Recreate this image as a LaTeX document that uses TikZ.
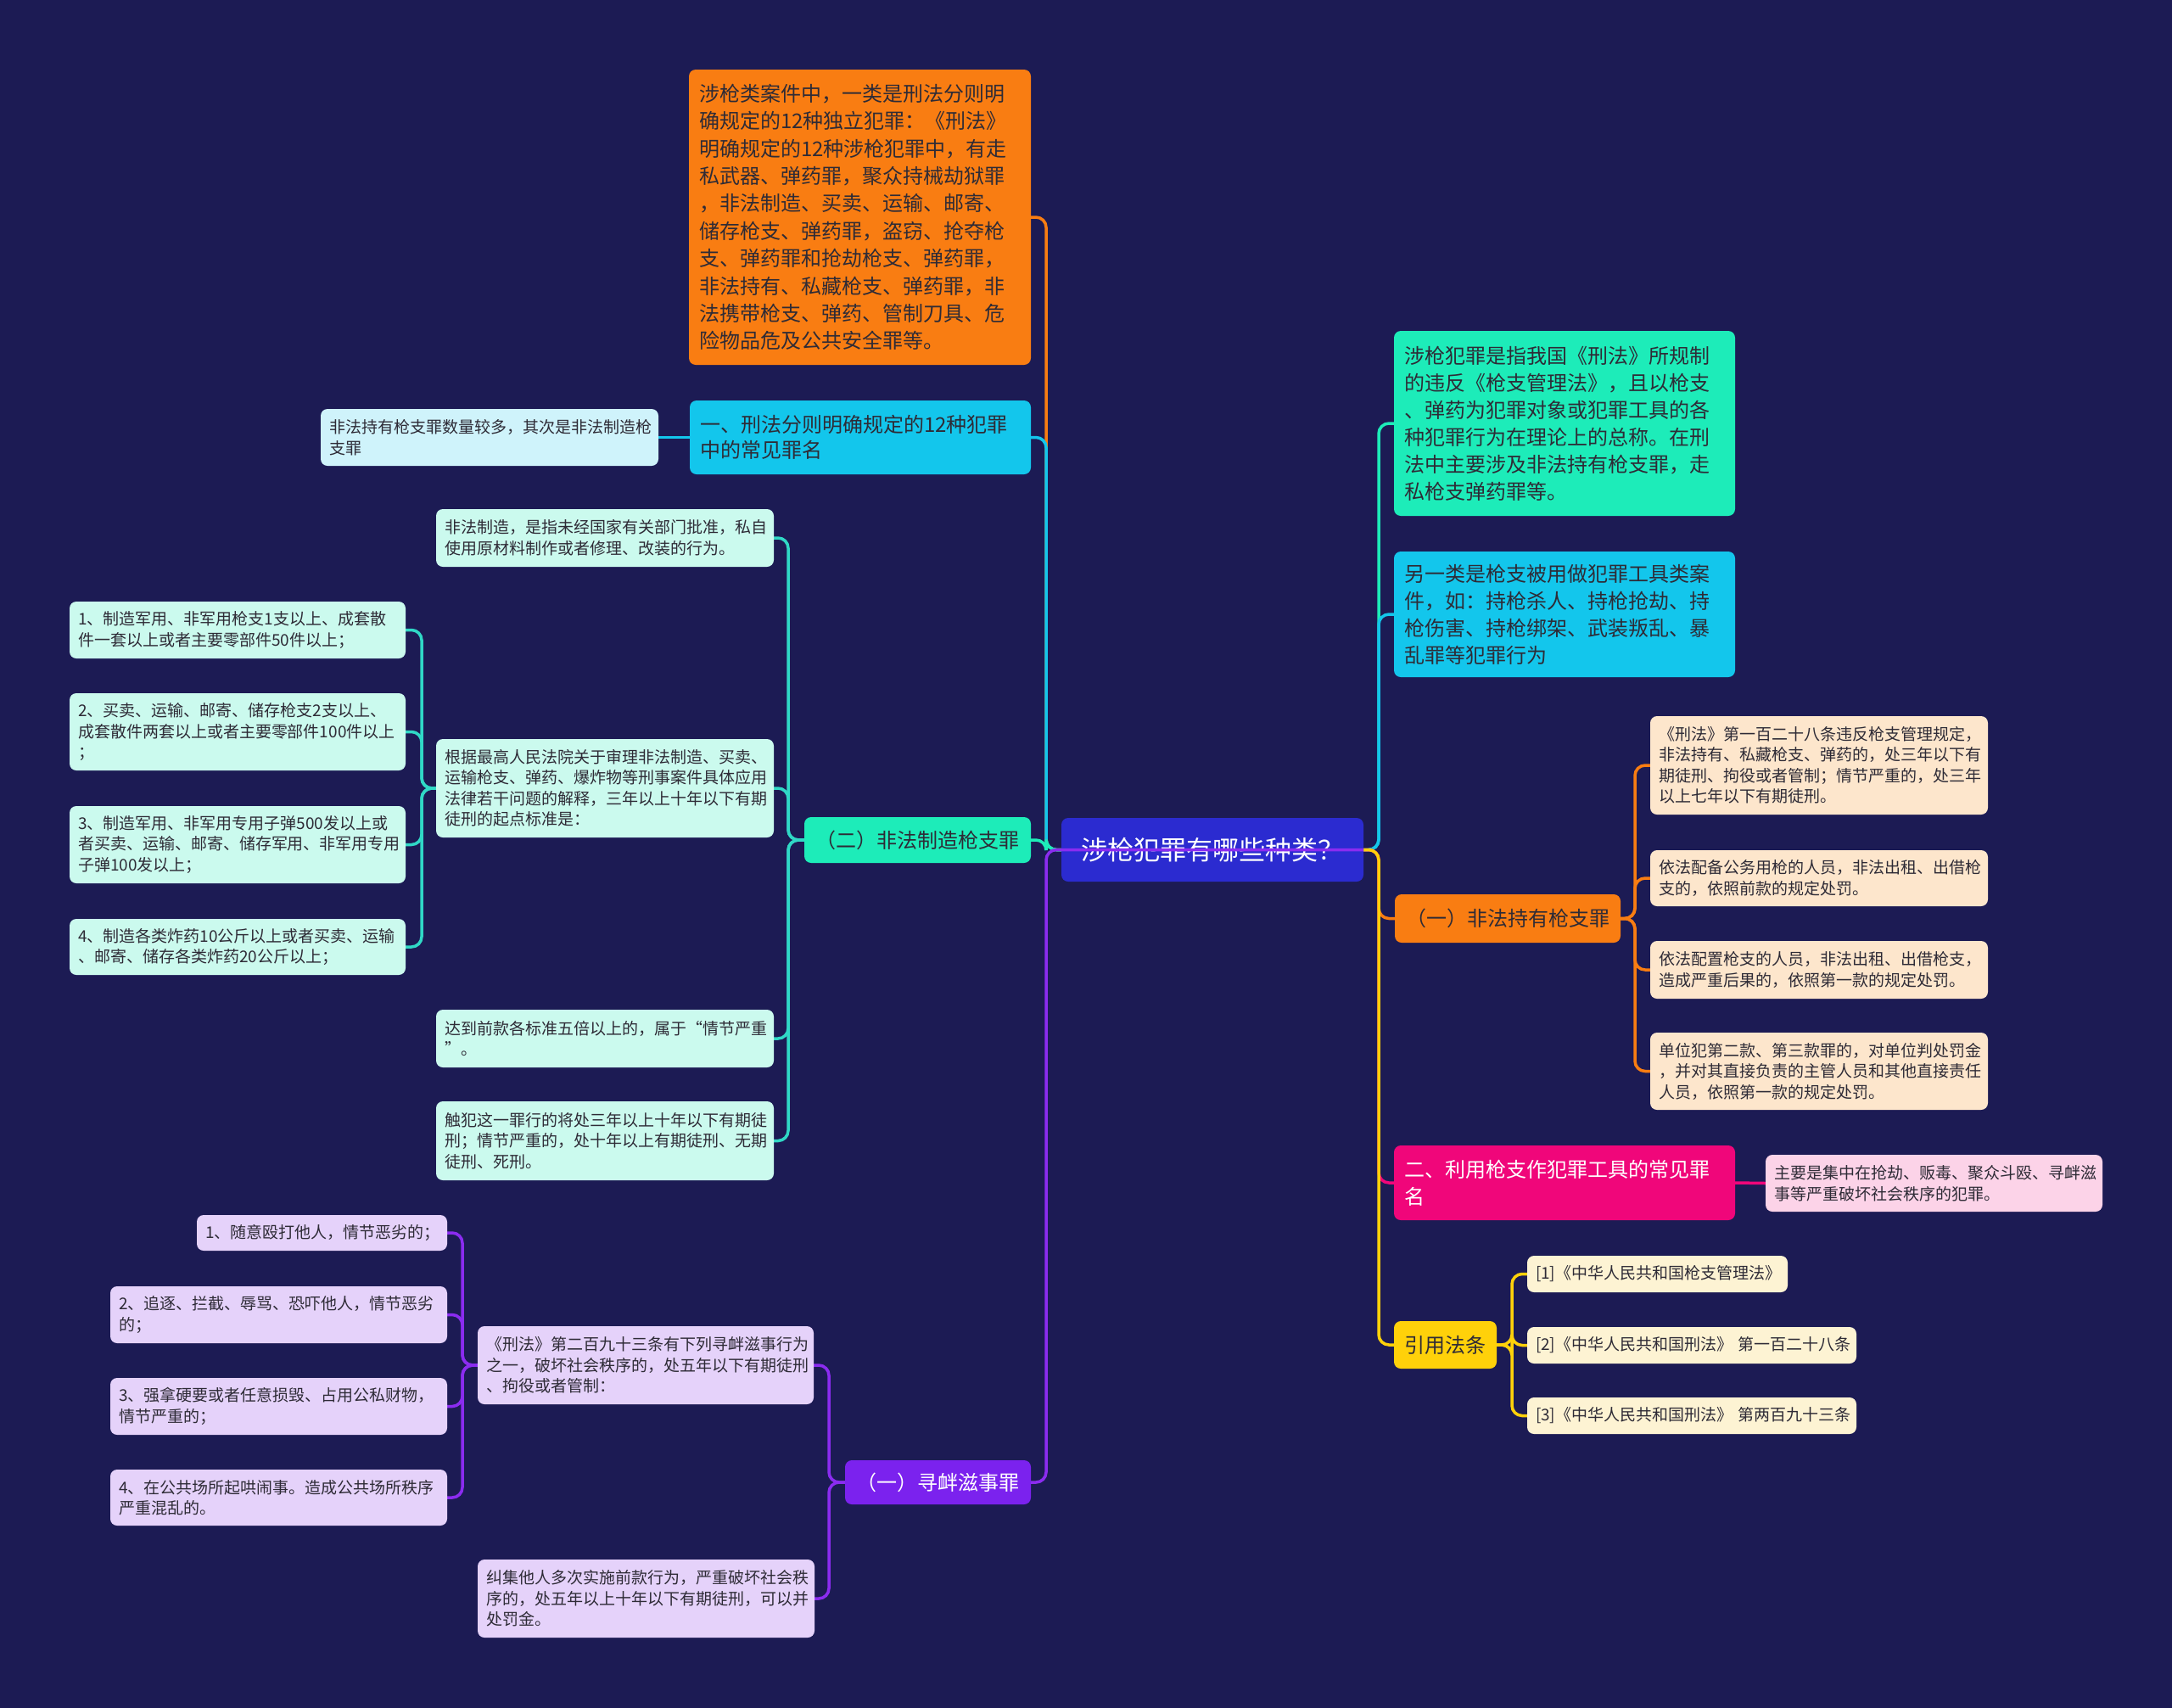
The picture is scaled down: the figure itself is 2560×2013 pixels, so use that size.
\documentclass[tikz,border=0pt]{standalone}
\usepackage{fontspec}
\setmainfont{Noto Sans CJK SC}
\usetikzlibrary{calc,backgrounds}
\definecolor{bgc}{HTML}{1C1B54}
\definecolor{txt}{HTML}{2E2B36}
\definecolor{rootc}{HTML}{2B2BD0}
\definecolor{orng}{HTML}{F97D12}
\definecolor{cyanc}{HTML}{13C6EC}
\definecolor{grn}{HTML}{1DECB9}
\definecolor{purp}{HTML}{7B22EE}
\definecolor{purpl}{HTML}{8B2CF0}
\definecolor{mag}{HTML}{F0067A}
\definecolor{yel}{HTML}{FFD10A}
\definecolor{lcyan}{HTML}{CFF3FB}
\definecolor{mint}{HTML}{CBFAEE}
\definecolor{teal}{HTML}{30D8C6}
\definecolor{lav}{HTML}{E5D2FA}
\definecolor{peach}{HTML}{FDE6CC}
\definecolor{lpink}{HTML}{FCD3E8}
\definecolor{cream}{HTML}{FDF3D3}
\begin{document}
\begin{tikzpicture}[x=1pt,y=-1pt,
  bx/.style={rounded corners=8pt, inner sep=0pt, align=left},
  sm/.style={bx, text=txt, font=\fontsize{19}{24.5}\selectfont},
  lg/.style={bx, font=\fontsize{24}{32.4}\selectfont},
  br/.style={bx, align=center, font=\fontsize{24}{30}\selectfont},
  conn/.style={line width=3.5pt, rounded corners=12pt}]
\begin{pgfonlayer}{background}
\fill[bgc] (0,0) rectangle (2560,2013);
\end{pgfonlayer}
\useasboundingbox (0,0) rectangle (2560,2013);

% bus coordinates
\coordinate (vL) at (1233,0);
\coordinate (vR) at (1625,0);
\coordinate (vH) at (929,0);
\coordinate (vE) at (497,0);
\coordinate (vJ) at (977,0);
\coordinate (vK) at (545,0);
\coordinate (vR3) at (1927,0);
\coordinate (vR5) at (1782,0);

% root
\node[bx, align=center, fill=rootc, text=white, font=\fontsize{31}{36}\selectfont,
  minimum width=356pt, minimum height=75pt] (root) at (1429,1001.5) {涉枪犯罪有哪些种类？};

% ---------- left side ----------
\node[lg, fill=orng, text=txt, minimum width=403pt, minimum height=348pt, text width=379pt] (A) at (1013.5,256)
{涉枪类案件中，一类是刑法分则明\\确规定的12种独立犯罪：《刑法》\\明确规定的12种涉枪犯罪中，有走\\私武器、弹药罪，聚众持械劫狱罪\\，非法制造、买卖、运输、邮寄、\\储存枪支、弹药罪，盗窃、抢夺枪\\支、弹药罪和抢劫枪支、弹药罪，\\非法持有、私藏枪支、弹药罪，非\\法携带枪支、弹药、管制刀具、危\\险物品危及公共安全罪等。};

\node[lg, font=\fontsize{24}{30}\selectfont, fill=cyanc, text=txt, minimum width=402pt, minimum height=87pt, text width=378pt] (B) at (1014,515.5)
{一、刑法分则明确规定的12种犯罪\\中的常见罪名};

\node[sm, fill=lcyan, minimum width=398pt, minimum height=67pt, text width=378pt] (C) at (577,515.5)
{非法持有枪支罪数量较多，其次是非法制造枪\\支罪};

\node[br, fill=grn, text=txt, minimum width=267pt, minimum height=54pt] (H) at (1081.5,990) {（二）非法制造枪支罪};

\node[sm, fill=mint, minimum width=398pt, minimum height=68pt, text width=378pt] (D) at (713,634)
{非法制造，是指未经国家有关部门批准，私自\\使用原材料制作或者修理、改装的行为。};
\node[sm, fill=mint, minimum width=398pt, minimum height=116pt, text width=378pt] (E) at (713,929)
{根据最高人民法院关于审理非法制造、买卖、\\运输枪支、弹药、爆炸物等刑事案件具体应用\\法律若干问题的解释，三年以上十年以下有期\\徒刑的起点标准是：};
\node[sm, fill=mint, minimum width=398pt, minimum height=68pt, text width=378pt] (F) at (713,1224)
{达到前款各标准五倍以上的，属于“情节严重\\”。};
\node[sm, fill=mint, minimum width=398pt, minimum height=93pt, text width=378pt] (G) at (713,1344.5)
{触犯这一罪行的将处三年以上十年以下有期徒\\刑；情节严重的，处十年以上有期徒刑、无期\\徒刑、死刑。};

\node[sm, fill=mint, minimum width=396pt, minimum height=67pt, text width=376pt] (I1) at (280,742.5)
{1、制造军用、非军用枪支1支以上、成套散\\件一套以上或者主要零部件50件以上；};
\node[sm, fill=mint, minimum width=396pt, minimum height=91pt, text width=376pt] (I2) at (280,862.5)
{2、买卖、运输、邮寄、储存枪支2支以上、\\成套散件两套以上或者主要零部件100件以上\\；};
\node[sm, fill=mint, minimum width=396pt, minimum height=91pt, text width=376pt] (I3) at (280,995.5)
{3、制造军用、非军用专用子弹500发以上或\\者买卖、运输、邮寄、储存军用、非军用专用\\子弹100发以上；};
\node[sm, fill=mint, minimum width=396pt, minimum height=66pt, text width=376pt] (I4) at (280,1116)
{4、制造各类炸药10公斤以上或者买卖、运输\\、邮寄、储存各类炸药20公斤以上；};

\node[br, fill=purp, text=white, minimum width=219pt, minimum height=52pt] (J) at (1105.5,1747) {（一）寻衅滋事罪};

\node[sm, fill=lav, minimum width=396pt, minimum height=92pt, text width=376pt] (K) at (761,1609)
{《刑法》第二百九十三条有下列寻衅滋事行为\\之一，破坏社会秩序的，处五年以下有期徒刑\\、拘役或者管制：};
\node[sm, fill=lav, minimum width=397pt, minimum height=92pt, text width=377pt] (L) at (761.5,1884)
{纠集他人多次实施前款行为，严重破坏社会秩\\序的，处五年以上十年以下有期徒刑，可以并\\处罚金。};

\node[sm, fill=lav, minimum width=295pt, minimum height=42pt, text width=275pt] (M1) at (379.5,1453)
{1、随意殴打他人，情节恶劣的；};
\node[sm, fill=lav, minimum width=397pt, minimum height=67pt, text width=377pt] (M2) at (328.5,1549.5)
{2、追逐、拦截、辱骂、恐吓他人，情节恶劣\\的；};
\node[sm, fill=lav, minimum width=397pt, minimum height=67pt, text width=377pt] (M3) at (328.5,1657.5)
{3、强拿硬要或者任意损毁、占用公私财物，\\情节严重的；};
\node[sm, fill=lav, minimum width=397pt, minimum height=66pt, text width=377pt] (M4) at (328.5,1765)
{4、在公共场所起哄闹事。造成公共场所秩序\\严重混乱的。};

% ---------- right side ----------
\node[lg, font=\fontsize{24}{32}\selectfont, fill=grn, text=txt, minimum width=402pt, minimum height=218pt, text width=378pt] (R1) at (1844,499)
{涉枪犯罪是指我国《刑法》所规制\\的违反《枪支管理法》，且以枪支\\、弹药为犯罪对象或犯罪工具的各\\种犯罪行为在理论上的总称。在刑\\法中主要涉及非法持有枪支罪，走\\私枪支弹药罪等。};
\node[lg, font=\fontsize{24}{32}\selectfont, fill=cyanc, text=txt, minimum width=402pt, minimum height=148pt, text width=378pt] (R2) at (1844,724)
{另一类是枪支被用做犯罪工具类案\\件，如：持枪杀人、持枪抢劫、持\\枪伤害、持枪绑架、武装叛乱、暴\\乱罪等犯罪行为};

\node[br, fill=orng, text=txt, minimum width=266pt, minimum height=57pt] (R3) at (1777,1082.5) {（一）非法持有枪支罪};

\node[sm, fill=peach, minimum width=398pt, minimum height=116pt, text width=378pt] (P1) at (2144,902)
{《刑法》第一百二十八条违反枪支管理规定，\\非法持有、私藏枪支、弹药的，处三年以下有\\期徒刑、拘役或者管制；情节严重的，处三年\\以上七年以下有期徒刑。};
\node[sm, fill=peach, minimum width=398pt, minimum height=66pt, text width=378pt] (P2) at (2144,1035)
{依法配备公务用枪的人员，非法出租、出借枪\\支的，依照前款的规定处罚。};
\node[sm, fill=peach, minimum width=398pt, minimum height=68pt, text width=378pt] (P3) at (2144,1143)
{依法配置枪支的人员，非法出租、出借枪支，\\造成严重后果的，依照第一款的规定处罚。};
\node[sm, fill=peach, minimum width=398pt, minimum height=91pt, text width=378pt] (P4) at (2144,1262.5)
{单位犯第二款、第三款罪的，对单位判处罚金\\，并对其直接负责的主管人员和其他直接责任\\人员，依照第一款的规定处罚。};

\node[lg, font=\fontsize{24}{32}\selectfont, fill=mag, text=white, minimum width=402pt, minimum height=88pt, text width=378pt] (R4) at (1844,1394)
{二、利用枪支作犯罪工具的常见罪\\名};
\node[sm, fill=lpink, minimum width=397pt, minimum height=67pt, text width=377pt] (Q) at (2279.5,1394.5)
{主要是集中在抢劫、贩毒、聚众斗殴、寻衅滋\\事等严重破坏社会秩序的犯罪。};

\node[br, fill=yel, text=txt, minimum width=121pt, minimum height=56pt] (R5) at (1703.5,1585) {引用法条};
\node[sm, fill=cream, minimum width=307pt, minimum height=43pt, text width=287pt] (S1) at (1953.5,1501.5)
{[1]《中华人民共和国枪支管理法》};
\node[sm, fill=cream, minimum width=388pt, minimum height=43pt, text width=368pt] (S2) at (1994,1585.5)
{\hbox{[2]《中华人民共和国刑法》 第一百二十八条}};
\node[sm, fill=cream, minimum width=388pt, minimum height=43pt, text width=368pt] (S3) at (1994,1668.5)
{\hbox{[3]《中华人民共和国刑法》 第两百九十三条}};

% ---------- connectors ----------
\begin{pgfonlayer}{background}
% root left
\draw[conn, orng] (root.west) -- (root.west -| vL) |- (A.east);
\draw[conn, cyanc] (root.west) -- (root.west -| vL) |- (B.east);
\draw[conn, grn] (root.west) -- (root.west -| vL) |- (H.east);
% root right
\draw[conn, grn] (root.east) -- (root.east -| vR) |- (R1.west);
\draw[conn, cyanc] (root.east) -- (root.east -| vR) |- (R2.west);
\draw[conn, orng] (root.east) -- (root.east -| vR) |- (R3.west);
\draw[conn, mag] (root.east) -- (root.east -| vR) |- (R4.west);
\draw[conn, yel] (root.east) -- (root.east -| vR) |- (R5.west);
% B -> C
\draw[conn, cyanc] (B.west) -- (C.east);
% H children
\foreach \c in {D,E,F,G}
  \draw[conn, teal] (H.west) -- (H.west -| vH) |- (\c.east);
% E children
\foreach \c in {I1,I2,I3,I4}
  \draw[conn, teal] (E.west) -- (E.west -| vE) |- (\c.east);
% J children
\foreach \c in {K,L}
  \draw[conn, purpl] (J.west) -- (J.west -| vJ) |- (\c.east);
% K children
\foreach \c in {M1,M2,M3,M4}
  \draw[conn, purpl] (K.west) -- (K.west -| vK) |- (\c.east);
% R3 children
\foreach \c in {P1,P2,P3,P4}
  \draw[conn, orng] (R3.east) -- (R3.east -| vR3) |- (\c.west);
% R4 -> Q
\draw[conn, mag] (R4.east) -- (Q.west);
% R5 children
\foreach \c in {S1,S2,S3}
  \draw[conn, yel] (R5.east) -- (R5.east -| vR5) |- (\c.west);
\end{pgfonlayer}
% purple connector runs across the root, as in the reference
\draw[conn, purpl] (root.east) -- (root.east -| vL) |- (J.east);
\end{tikzpicture}
\end{document}
